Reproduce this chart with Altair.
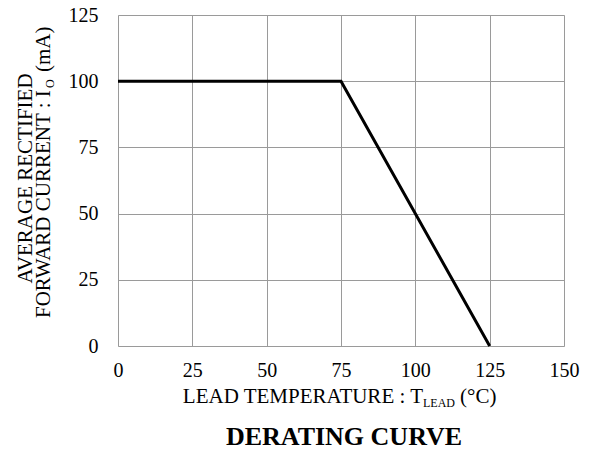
import altair as alt
import pandas as pd

# Data
temperature = [0, 75, 125]
current = [100, 100, 0]
x_ticks = [0, 25, 50, 75, 100, 125, 150]
y_ticks = [0, 25, 50, 75, 100, 125]

FONT = "Liberation Serif"
W, H = 446, 331

df = pd.DataFrame({"temp": temperature, "current": current})

line = alt.Chart(df).mark_line(color="black", strokeWidth=3).encode(
    x=alt.X("temp:Q",
            scale=alt.Scale(domain=[0, 150], nice=False),
            axis=alt.Axis(values=x_ticks, title=None, ticks=False, domain=False,
                          labelFont=FONT, labelFontSize=20, labelColor="black",
                          labelFlush=False, labelOverlap=False,
                          labelBaseline="alphabetic", labelPadding=30,
                          gridColor="#9a9a9a", gridWidth=1)),
    y=alt.Y("current:Q",
            scale=alt.Scale(domain=[0, 125], nice=False),
            axis=alt.Axis(values=y_ticks, title=None, ticks=False, domain=False,
                          labelFont=FONT, labelFontSize=20, labelColor="black",
                          labelOverlap=False, labelPadding=20,
                          gridColor="#9a9a9a", gridWidth=1)),
)


def txt(s, x, y, size=21, align="left", angle=0, bold=False, baseline="alphabetic"):
    props = dict(font=FONT, fontSize=size, align=align, baseline=baseline,
                 color="black", fontWeight="bold" if bold else "normal")
    if angle:
        props["angle"] = angle
    return alt.Chart(alt.Data(values=[{}])).mark_text(**props).encode(
        text=alt.value(s), x=alt.value(x), y=alt.value(y))


layers = [
    line,
    # x-axis title
    txt("LEAD TEMPERATURE : T", 305, 388, align="right"),
    txt("LEAD", 305, 392, size=12),
    txt("(°C)", 342, 388),
    # chart title
    txt("DERATING CURVE", 226, 430, size=26, align="center", bold=True),
    # y-axis title
    txt("AVERAGE RECTIFIED", -86.5, 163.5, align="center", angle=270),
    txt("FORWARD CURRENT : I", -68, 303, align="left", angle=270),
    txt("O", -64, 73, size=12, align="left", angle=270),
    txt("(mA)", -68, 57, align="left", angle=270),
]

chart = alt.layer(*layers).properties(
    width=W, height=H,
    autosize=alt.AutoSizeParams(type="none"),
    padding={"left": 118, "top": 15, "right": 26, "bottom": 104},
).configure_view(stroke="#8a8a8a", strokeWidth=2).configure(background="white")

chart.save("out.html", embed_options={"renderer": "svg", "actions": False})
